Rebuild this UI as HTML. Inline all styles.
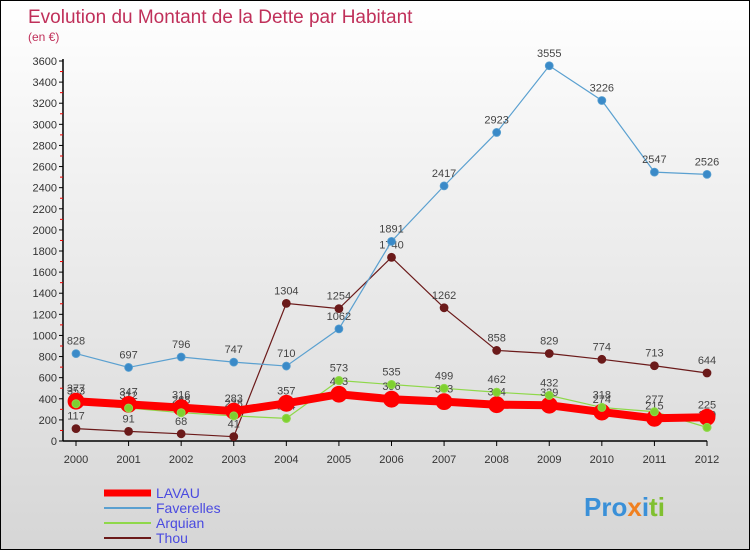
<!DOCTYPE html>
<html><head><meta charset="utf-8"><style>
body{margin:0;width:750px;height:550px;overflow:hidden;font-family:"Liberation Sans",sans-serif}
#wrap{position:relative;width:748px;height:548px;border:1px solid #000;background:linear-gradient(#fff 0%,#f2f2f2 30%,#d6d6d6 100%)}
svg{position:absolute;left:0;top:0}
</style></head><body>
<div id="wrap">
<svg id="c" width="750" height="550">
<text x="27" y="22" font-size="19" fill="#c0305a">Evolution du Montant de la Dette par Habitant</text>
<text x="27" y="40" font-size="12" fill="#c0305a">(en €)</text>
</svg>
</div>
<script>
const years=[2000,2001,2002,2003,2004,2005,2006,2007,2008,2009,2010,2011,2012];
const lavau=[377,347,316,283,357,443,396,373,344,339,274,215,225];
const faverelles=[828,697,796,747,710,1062,1891,2417,2923,3555,3226,2547,2526];
const arquian=[353,312,268,238,214,573,535,499,462,432,318,277,129];
const thou=[117,91,68,41,1304,1254,1740,1262,858,829,774,713,644];
const yTicks=[0,200,400,600,800,1000,1200,1400,1600,1800,2000,2200,2400,2600,2800,3000,3200,3400,3600];
const NS="http://www.w3.org/2000/svg",svg=document.getElementById('c');
const X=i=>75+i*(706-75)/(years.length-1);
const Y=v=>440-v*380/3600;
function mk(t,a,p){const e=document.createElementNS(NS,t);for(const k in a)e.setAttribute(k,a[k]);(p||svg).appendChild(e);return e;}
// axes
let ax=mk('line',{x1:62,y1:Y(3600)-2,x2:62,y2:440,stroke:'#000','stroke-width':1.5});


let xa=mk('line',{x1:62,y1:440,x2:706,y2:440,stroke:'#000','stroke-width':1.5});


yTicks.forEach((v,i)=>{
 mk('line',{x1:58,y1:Y(v),x2:62,y2:Y(v),stroke:'#000'});
 if(i<yTicks.length-1)mk('line',{x1:59,y1:Y(v+100),x2:62,y2:Y(v+100),stroke:'#e00'});
 const t=mk('text',{x:56,y:Y(v)+4,'text-anchor':'end','font-size':11,fill:'#333'});t.textContent=v;
 
 
});
years.forEach((y,i)=>{
 mk('line',{x1:X(i),y1:440,x2:X(i),y2:445,stroke:'#000'});
 const t=mk('text',{x:X(i),y:462,'text-anchor':'middle','font-size':11,fill:'#333'});t.textContent=y;
 
 
});
function series(data,color,w,r,name,dot,labelAbove){
 const g=mk('g',{});
 
 
 mk('polyline',{points:data.map((v,i)=>X(i)+','+Y(v)).join(' '),fill:'none',stroke:color,'stroke-width':w},g);
 data.forEach((v,i)=>{
  const c=mk('circle',{cx:X(i),cy:Y(v),r:r,fill:dot,stroke:color,'stroke-width':0.8},g);
  
  
  const t=mk('text',{x:X(i),y:Y(v)+(labelAbove?-9:-9),'text-anchor':'middle','font-size':11,fill:'#444'},g);t.textContent=v;
  
  
 });
}
series(thou,'#6b1a1a',1.2,4,'thou','#6b1a1a',true);
series(arquian,'#8fd84a',1.2,4,'arquian','#7fd030',true);
series(faverelles,'#5aa0d0',1.2,4,'faverelles','#3a8ac8',true);
series(lavau,'#ff0000',8,8,'lavau','#ff0000',true);
// redraw arquian dots over lavau
arquian.forEach((v,i)=>{const c=mk('circle',{cx:X(i),cy:Y(v),r:4,fill:'#7fd030',stroke:'#8fd84a'});
 
 });
// legend
const leg=[['LAVAU','#ff0000',7],['Faverelles','#5aa0d0',2],['Arquian','#8fd84a',2],['Thou','#6b1a1a',2]];
leg.forEach((l,i)=>{
 const y=492+i*15;
 const ln=mk('line',{x1:103,y1:y,x2:150,y2:y,stroke:l[1],'stroke-width':l[2]});
 
 
 const t=mk('text',{x:155,y:y+5,'font-size':14,fill:'#4a4ae0'});t.textContent=l[0];
 
 
});
const lg=mk('text',{x:583,y:515,'font-size':26,'font-weight':'bold',fill:'#3aa0e0'});


lg.innerHTML='<tspan fill="#3a90d8">Pro</tspan><tspan fill="#f08020">x</tspan><tspan fill="#3a90d8">i</tspan><tspan fill="#80c030">ti</tspan>';
</script>
</body></html>
